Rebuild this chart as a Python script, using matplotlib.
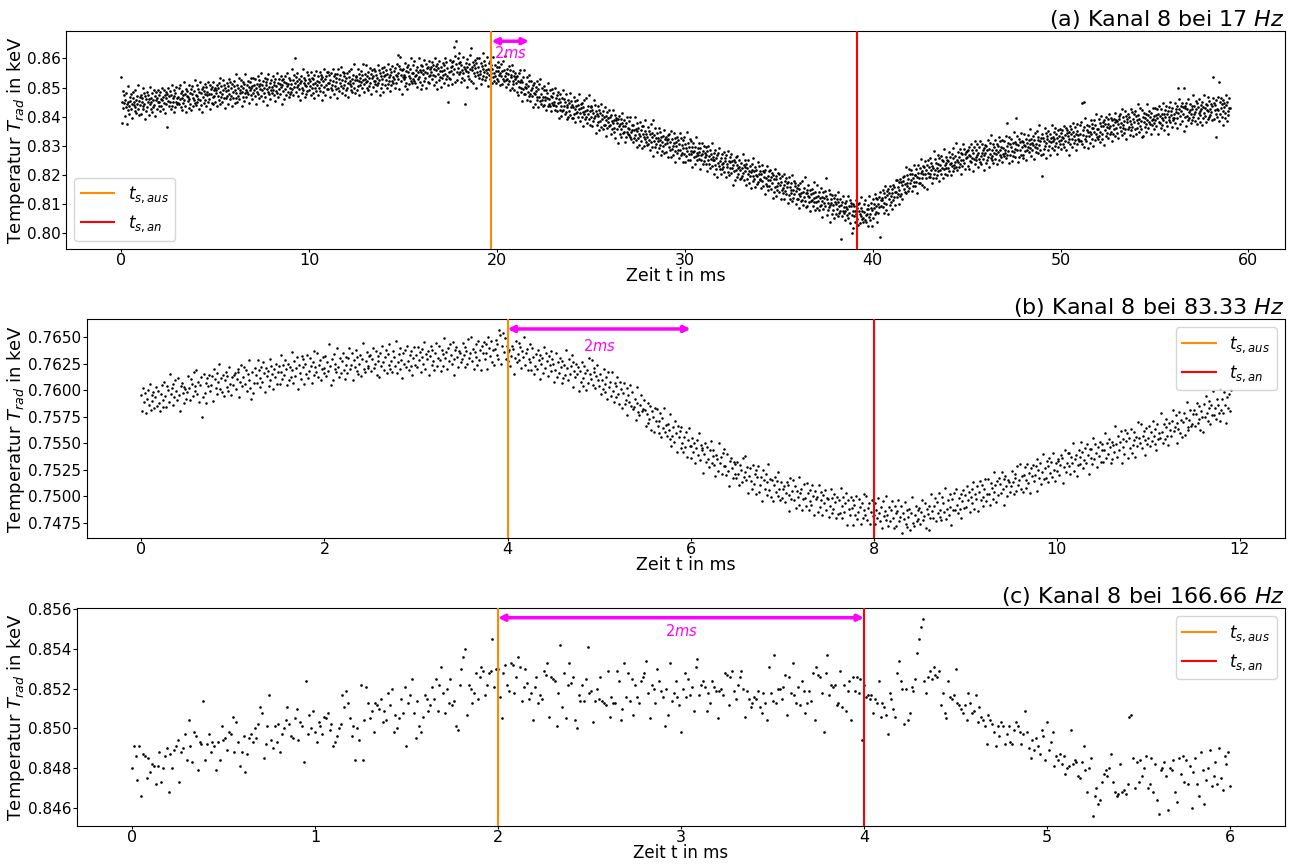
import numpy as np
import matplotlib
matplotlib.use("Agg")
import matplotlib.pyplot as plt
from matplotlib.ticker import MultipleLocator, FormatStrFormatter

# ---------------- data ----------------
# panel (a): 17 Hz, one row per ms, 0.025 ms sampling, values = 0.79 keV + v * 1e-4 keV
base_a = 0.79
dt_a = 0.025
row_len_a = 1.0
temp_a_rows = [
[635,480,552,588,530,546,573,501,557,534,581,542,474,523,550,604,537,510,569,555,528,577,545,496,563,585,539,549,520,592,532,558,513,571,543,609,526,554,507,567],
[541,576,509,564,552,527,597,536,580,545,493,570,559,520,586,533,551,574,505,561,545,603,525,565,550,517,580,558,532,593,541,570,502,557,585,528,565,549,590,537],
[575,549,518,584,562,535,556,599,526,567,548,592,514,574,583,543,563,464,579,555,598,535,570,587,552,526,575,609,538,563,549,592,515,570,580,534,602,551,564,543],
[548,569,597,542,610,560,534,581,564,523,589,574,547,619,556,538,578,596,515,571,588,554,569,531,609,561,582,543,595,522,578,604,565,536,587,558,625,548,575,540],
[572,607,549,562,595,528,584,619,557,539,581,594,517,603,568,589,547,612,578,556,602,537,586,573,620,551,579,560,607,526,596,579,548,601,567,620,543,591,571,598],
[552,593,581,535,609,598,570,615,557,586,543,632,568,605,578,550,591,625,563,608,531,599,587,563,615,572,606,544,591,631,579,560,620,570,597,538,613,586,564,624],
[606,546,593,565,648,582,610,552,597,571,633,561,590,580,626,604,537,586,618,569,598,612,553,580,647,593,566,609,585,624,579,602,546,618,591,575,633,597,562,605],
[580,633,592,608,571,628,600,545,613,584,639,578,604,626,563,596,611,571,649,591,609,553,622,599,581,634,568,607,618,541,595,630,586,647,577,602,614,559,626,591],
[582,603,590,641,573,619,609,554,631,588,605,580,651,617,568,594,629,612,577,640,601,625,543,609,589,629,620,560,638,594,617,576,649,606,585,612,634,568,599,625],
[578,613,586,663,596,625,574,603,642,616,702,635,583,622,601,649,571,609,594,628,614,558,639,621,581,599,662,590,617,632,568,609,626,579,605,655,587,642,614,593],
[631,604,624,576,653,600,634,581,612,629,563,644,597,616,588,657,610,623,574,639,597,619,653,588,630,609,644,558,635,622,584,602,664,629,573,640,607,594,652,617],
[654,594,616,643,568,627,600,650,590,609,664,624,577,639,605,648,596,620,632,564,645,600,662,628,587,615,642,605,669,580,626,597,655,610,638,649,575,621,633,592],
[600,649,617,568,635,657,611,621,592,664,605,631,586,644,616,682,599,627,580,640,635,592,627,663,605,621,648,576,632,609,657,618,642,599,626,680,613,586,645,631],
[619,677,599,639,624,591,654,632,606,667,616,645,577,632,660,603,640,624,665,612,621,656,589,644,632,607,677,616,660,625,573,650,639,600,666,613,631,654,585,641],
[671,608,643,660,625,599,648,682,611,636,622,665,588,643,653,607,675,624,637,616,657,631,600,666,644,617,638,681,710,649,629,673,595,705,664,624,644,578,660,636],
[662,628,643,605,683,635,656,617,669,596,653,679,640,611,662,633,700,623,650,615,628,649,677,622,690,640,614,661,644,603,670,655,628,700,637,619,659,677,596,652],
[675,610,659,646,693,624,652,633,680,599,667,650,619,672,638,691,614,662,642,669,653,688,630,643,676,609,665,700,638,620,660,673,596,682,647,668,626,691,657,635],
[601,669,657,633,685,642,676,614,661,701,648,629,689,639,666,607,550,655,633,693,629,670,658,612,686,675,647,692,740,663,619,708,760,681,654,626,667,701,720,684],
[646,689,654,618,676,660,633,705,649,672,626,665,545,684,657,603,670,697,638,652,680,631,663,712,735,623,669,659,688,616,677,651,696,638,666,600,683,655,702,642],
[669,634,701,646,658,683,613,674,630,665,718,641,652,691,625,678,660,637,706,650,664,606,684,644,659,692,629,651,677,616,665,636,704,649,621,678,641,657,616,669],
[631,657,688,622,644,671,650,607,680,639,656,612,690,630,621,661,641,707,625,649,601,664,629,612,647,673,624,590,661,636,643,600,677,622,612,658,590,641,628,649],
[635,614,586,641,573,623,649,602,619,660,585,600,627,555,618,636,596,578,659,603,578,612,597,635,557,605,584,623,571,644,579,553,592,621,570,599,532,609,582,617],
[579,544,602,589,556,623,567,532,594,612,566,553,630,544,579,558,600,535,569,591,540,605,556,569,522,591,563,582,535,616,542,559,590,537,571,518,595,547,567,540],
[581,540,552,598,524,535,563,518,576,547,585,496,560,523,550,578,537,503,565,520,592,524,536,560,508,551,517,579,532,492,539,558,498,548,521,580,505,532,554,494],
[540,497,532,568,510,526,553,481,537,514,556,517,541,498,525,579,512,485,544,530,499,548,516,467,534,556,510,520,491,563,498,524,479,537,509,575,492,520,473,533],
[500,535,468,523,511,486,556,495,539,504,443,520,509,470,536,483,501,524,455,511,486,544,466,506,491,458,521,499,473,534,473,502,434,489,517,460,497,481,522,469],
[498,472,441,507,485,458,479,522,449,490,462,506,428,488,497,457,477,411,493,469,503,440,475,492,457,431,480,514,443,468,446,489,412,467,477,431,499,448,461,440],
[437,458,486,431,499,449,423,470,453,412,470,455,428,500,437,419,459,477,396,452,460,426,441,403,481,433,454,415,467,394,442,468,429,400,451,422,489,412,439,404],
[429,464,406,419,452,385,441,476,414,396,430,443,366,489,417,438,396,461,427,405,444,379,428,415,462,393,421,402,449,368,430,413,382,435,401,454,377,425,405,432],
[379,420,408,362,436,425,397,442,384,413,363,452,388,425,398,370,411,445,383,428,345,413,401,377,429,386,420,358,405,445,386,367,427,377,404,345,420,393,371,431],
[406,346,393,365,448,382,410,352,397,371,425,353,382,372,418,396,329,378,410,361,382,396,337,364,431,377,350,393,369,408,355,378,322,394,367,351,409,373,338,381],
[348,401,360,376,339,396,368,313,381,352,399,338,364,386,323,356,371,331,409,351,361,305,374,351,333,386,320,359,370,293,340,375,331,392,322,347,359,304,371,336],
[320,341,328,379,311,357,347,292,369,326,336,311,382,348,299,325,360,343,308,371,325,349,267,333,313,353,344,284,362,318,334,293,366,323,302,329,351,285,316,342],
[288,323,296,373,306,335,284,313,352,326,265,338,286,325,304,352,274,312,297,331,311,255,336,318,278,296,359,287,314,329,258,299,316,269,295,345,277,332,304,283],
[312,285,305,257,334,281,315,262,293,310,236,317,270,289,261,330,283,296,247,312,261,283,317,252,294,273,308,222,299,286,240,258,320,285,229,296,263,250,308,273],
[302,242,264,291,216,275,248,298,238,257,304,264,217,279,245,288,236,260,272,204,277,232,294,260,219,247,274,237,301,212,250,221,279,234,262,273,199,245,257,216],
[217,266,234,185,252,274,228,238,209,281,215,241,196,254,226,292,209,237,190,250,237,194,229,265,207,223,250,178,234,211,252,213,237,194,221,275,208,181,240,226],
[207,265,187,227,212,179,242,220,194,255,196,225,157,212,240,183,220,204,245,192,290,229,162,217,205,180,250,189,233,198,139,216,205,166,232,179,197,220,151,207],
[230,167,202,219,184,158,207,241,170,195,175,218,80,196,206,160,228,177,190,169,203,177,146,212,190,163,184,227,154,195,169,213,135,195,204,164,100,118,200,176],
[194,160,175,137,215,167,188,149,201,128,178,204,165,136,187,158,225,148,175,140,151,172,200,145,213,163,137,184,167,126,198,183,156,228,165,147,187,205,124,180],
[216,151,200,187,234,165,193,174,221,140,218,201,170,223,189,242,88,213,193,220,214,249,191,204,237,170,226,261,199,181,231,244,167,253,218,239,197,262,228,206],
[183,251,239,215,267,224,258,196,243,283,242,223,283,233,260,201,276,249,227,287,235,276,264,218,292,281,253,298,240,269,237,326,262,299,272,244,285,319,257,302],
[274,317,282,246,304,288,261,333,277,300,262,301,277,320,293,239,306,333,274,288,323,274,306,355,288,266,312,302,331,259,328,302,347,289,317,251,334,306,353,293],
[327,292,359,304,316,341,271,332,288,323,382,305,316,355,289,342,324,301,370,314,338,280,358,318,333,366,303,325,351,290,349,320,388,333,305,362,325,341,300,353],
[323,349,380,314,336,363,342,299,372,331,359,315,393,333,324,364,344,410,328,352,316,379,344,327,362,388,339,305,376,351,373,330,407,352,342,388,320,371,358,379],
[381,360,332,387,319,369,395,348,365,406,344,359,386,314,377,395,355,337,418,362,350,384,369,407,329,377,356,395,343,416,364,338,377,406,355,384,317,394,367,402],
[375,340,398,385,352,419,363,328,390,408,372,359,436,350,385,364,406,341,375,397,356,421,372,385,338,407,379,398,351,432,368,385,416,363,397,344,421,373,393,366],
[416,375,387,433,359,370,398,478,411,382,430,341,405,368,395,423,382,348,410,365,446,378,390,414,362,405,495,433,386,346,403,422,362,412,385,444,369,396,418,358],
[412,369,404,440,382,398,425,353,409,386,436,397,421,378,405,459,392,365,424,410,386,435,403,354,421,443,397,407,378,450,393,419,374,432,404,470,387,415,368,428],
[298,439,372,427,415,390,460,399,443,408,358,435,424,385,451,398,416,439,370,426,412,470,392,432,417,384,447,425,399,460,410,439,371,426,454,397,434,418,459,406],
[445,419,388,454,432,405,426,469,396,437,418,462,384,444,453,413,433,367,449,425,469,406,441,458,423,397,446,480,409,434,421,464,387,442,452,406,474,423,436,415],
[421,442,470,415,483,547,407,454,437,396,466,549,424,496,433,415,455,473,392,448,467,433,448,410,488,440,461,422,474,401,461,487,448,419,470,441,508,431,458,423],
[457,492,434,447,480,413,469,504,442,424,468,481,404,490,455,476,434,499,465,443,491,426,475,462,509,440,468,449,496,415,487,470,439,492,458,511,434,482,462,489],
[445,486,474,428,502,491,463,508,450,479,437,526,462,499,472,444,485,519,457,502,425,493,481,457,509,466,500,438,485,525,474,455,515,465,492,433,508,481,459,519],
[502,442,489,461,544,478,506,448,493,467,529,457,486,431,522,500,433,482,514,465,494,508,449,476,543,489,462,505,481,520,475,498,442,514,487,471,529,493,458,501],
[477,530,489,505,468,525,497,442,510,481,538,477,503,525,462,495,510,470,548,490,510,454,523,500,482,535,469,508,519,442,499,534,490,551,481,506,518,463,530,495],
[488,509,496,547,479,525,515,460,537,494,513,598,559,525,476,502,537,520,485,548,510,534,452,600,498,538,529,469,547,503,528,487,560,517,496,523,545,479,510,536],
[490,525,498,575,508,537,486,515,554,528,474,547,495,534,513,561,483,521,506,540,527,471,552,534,494,512,575,503,530,545,481,522,539,492,518,568,500,555,527,506],
[543,516,536,488,565,635,546,493,524,541,431,556,509,528,500,569,522,620,486,551,509,531,565,500,542,521,556,470,547,534,496,514,576,541,485,552,519,506,564,529],
[530],
]

# panel (b): 83.33 Hz, one row per 0.5 ms, 0.01 ms sampling, values = 0.74 keV + v * 1e-4 keV
base_b = 0.74
dt_b = 0.01
row_len_b = 0.5
temp_b_rows = [
[195,180,202,189,197,178,192,200,186,206,181,195,190,198,183,193,203,185,199,188,180,196,205,184,191,208,194,184,204,200,189,215,196,202,186,206,193,209,199,191,211,195,180,204,207,197,188,203,201,192],
[198,213,202,191,210,206,194,217,199,204,219,196,208,189,205,212,175,193,215,197,207,188,211,204,214,199,205,213,190,220,210,202,216,196,208,225,201,211,198,214,194,209,217,203,213,199,222,206,195,212],
[205,214,216,201,210,220,217,193,208,224,204,212,222,206,219,199,215,209,228,202,192,217,197,207,221,214,207,228,219,203,211,222,208,226,216,198,221,213,218,204,229,209,223,215,201,220,212,225,206,217],
[223,206,217,233,210,224,214,228,220,205,225,209,222,212,236,219,207,227,213,221,231,201,224,216,210,232,222,229,206,225,215,233,211,218,230,223,207,226,214,237,222,217,235,212,224,228,209,220,231,216],
[221,232,213,226,218,243,223,205,229,209,234,220,225,217,240,222,212,230,216,227,235,219,210,231,224,216,230,240,220,224,235,209,228,222,238,218,231,215,225,233,213,229,244,220,217,227,236,221,223,232],
[233,218,229,240,221,225,237,214,232,227,212,235,223,242,226,219,231,238,216,234,224,243,220,227,217,237,231,223,246,216,226,234,220,240,228,211,235,225,238,222,242,227,219,233,223,237,214,230,241,224],
[233,222,241,228,236,217,231,239,225,245,220,234,229,237,214,232,242,224,238,227,219,235,244,223,230,242,228,218,238,234,223,249,230,236,220,240,227,243,233,225,245,229,214,238,241,231,222,237,235,226],
[229,244,233,222,241,237,225,248,230,235,250,227,239,220,236,243,231,224,246,228,238,219,242,235,245,229,235,243,220,250,240,232,246,226,238,224,239,247,233,243,229,257,252,225,242,254,236,249,229,242],
[227,236,238,223,232,242,239,215,230,246,226,234,244,228,241,221,237,231,250,224,235,239,219,229,243,226,219,240,231,215,223,234,220,238,228,210,233,225,230,216,241,221,235,227,213,232,224,237,218,229],
[225,208,219,235,212,226,216,230,222,207,227,211,224,214,238,221,209,229,215,223,233,203,226,218,212,225,215,222,199,218,208,226,204,211,223,216,200,219,207,230,215,210,228,205,217,221,202,213,224,209],
[204,215,196,209,201,220,206,198,212,192,217,203,208,194,217,199,189,207,193,204,212,196,187,208,201,183,197,207,187,191,202,176,195,189,205,185,198,182,184,192,172,188,203,179,176,186,195,180,182,191],
[181,166,177,188,169,173,185,162,180,175,160,183,171,182,166,159,171,178,156,174,164,183,160,167,157,168,162,154,177,147,157,165,151,171,159,142,166,156,161,145,165,150,142,156,146,160,137,153,164,147],
[147,136,155,142,150,131,145,153,139,159,134,148,143,145,122,140,150,132,146,135,127,143,152,131,138,143,129,119,139,135,124,150,131,137,121,141,128,144,128,120,140,124,109,133,136,126,117,132,130,121],
[117,132,121,110,129,125,113,136,118,123,138,115,127,103,119,126,114,107,129,111,121,102,125,118,128,104,110,118,95,125,115,107,121,101,113,130,106,116,99,115,95,110,118,104,114,100,123,107,96,113],
[98,107,109,94,103,113,110,86,101,117,97,105,115,96,109,89,105,99,118,92,103,107,87,97,111,98,91,112,103,87,95,106,92,110,100,82,105,97,99,85,110,90,104,96,82,101,93,106,87,98],
[97,80,91,107,84,98,88,102,94,79,99,83,96,84,108,91,79,99,85,93,103,73,96,88,82,99,89,96,73,92,82,100,78,85,97,90,74,93,79,102,87,82,100,77,89,93,74,85,96,81],
[82,93,74,87,79,98,84,76,90,70,95,81,86,77,100,82,72,90,76,87,95,79,70,91,84,72,86,96,76,80,91,65,84,78,94,74,87,71,80,88,68,84,99,75,72,82,91,76,78,87],
[89,74,85,96,77,81,93,70,88,83,68,91,79,102,86,79,91,98,76,94,84,103,80,87,77,99,93,85,108,78,88,96,82,102,90,73,97,87,103,87,107,92,84,98,88,102,79,95,106,89],
[101,90,109,96,104,85,99,107,93,113,88,102,97,109,86,104,114,96,110,99,91,107,116,95,102,116,102,92,112,108,97,123,104,110,94,114,101,117,111,103,123,107,92,116,119,109,100,115,113,104],
[109,124,113,102,121,117,105,128,110,115,130,107,119,104,120,127,115,108,130,112,122,103,126,119,129,114,120,128,105,135,125,117,131,111,123,140,116,126,117,133,113,128,136,122,132,118,141,125,114,131],
[124,133,135,120,129,139,136,112,127,143,123,131,141,128,141,121,137,131,150,124,135,139,119,129,143,137,130,151,142,126,134,145,131,149,139,121,144,136,144,130,155,135,149,141,127,146,138,151,132,143],
[149,132,143,159,136,150,140,154,146,131,151,135,148,142,166,149,137,157,143,151,161,131,154,146,140,162,152,159,136,155,145,163,141,148,160,153,137,156,147,170,155,150,168,145,157,161,139,153,164,149],
[155,166,147,160,152,171,157,149,163,143,168,154,159,155,178,160,150,168,154,165,173,157,148,169,162,157,171,181,161,165,176,150,169,163,179,159,172,156,170,178,158,174,189,165,162,172,181,166,168,177],
[181,166,177,188,169,173,185,162,180,175,160,187,175,194,178,171,183,190,168,186,176,199,176,183,173,192,186,178,201,171,181,192,178,198,186,169,193,183,196,180,200],
]

# panel (c): 166.66 Hz, one row per 0.25 ms, 0.01 ms sampling, values = 0.84 keV + v * 1e-4 keV
base_c = 0.84
dt_c = 0.01
row_len_c = 0.25
temp_c_rows = [
[80,91,86,74,91,66,87,86,75,85,78,82,81,72,81,88,73,80,86,90,68,87,80,89,91],
[94,73,88,90,97,84,104,91,83,98,96,79,93,92,114,84,92,97,88,93,91,79,93,84,101],
[94,95,89,98,97,106,88,103,93,81,88,96,78,87,95,97,93,100,95,102,111,108,85,92,101],
[117,94,90,101,93,102,88,97,100,104,111,102,96,95,105,110,94,103,101,83,124,97,107,100,109],
[98,93,103,101,97,106,105,108,99,102,91,93,96,100,102,117,111,119,113,105,96,101,84,100,94],
[122,84,104,121,113,105,109,98,113,112,110,115,103,109,104,118,112,120,98,107,100,105,115,108,121],
[91,113,117,125,108,95,114,101,98,106,117,115,109,112,121,115,125,109,122,131,118,108,120,113,125],
[112,114,101,99,122,130,136,140,107,122,120,113,118,128,115,126,131,129,117,122,128,129,145,121,130],
[130,116,105,128,132,122,119,133,132,118,126,136,131,114,121,130,123,115,118,104,121,126,113,117,115],
[129,127,133,106,126,125,124,101,118,142,111,128,105,122,133,123,126,104,100,117,114,122,114,125,141],
[118,119,103,114,120,115,126,114,113,112,129,106,116,113,113,129,124,104,110,133,116,128,114,125,107],
[122,116,113,124,126,128,134,118,105,122,120,113,130,124,119,116,101,120,107,133,114,118,124,116,112],
[98,120,128,116,125,117,121,109,131,135,117,122,124,121,109,118,113,124,121,119,105,119,120,117,128],
[127,112,126,129,119,115,122,126,129,120,106,119,115,111,113,116,115,119,111,108,118,113,104,131,118],
[114,137,113,120,120,115,121,127,107,126,118,133,117,113,121,112,124,119,108,113,119,114,128,104,131],
[127,126,118,98,128,137,117,122,121,122,112,113,129,111,122,109,119,124,104,126,119,126,118,125,94],
[122,116,117,115,117,108,115,113,124,106,113,111,107,97,118,115,110,106,128,134,124,120,102,120,104],
[108,121,119,125,138,145,151,155,124,118,126,129,125,131,127,126,129,112,118,108,105,124,116,115,117],
[130,113,112,110,108,112,104,118,113,108,109,117,103,111,106,104,101,92,107,104,102,98,91,101,96],
[103,101,92,97,101,93,92,99,103,101,98,92,97,109,98,90,85,94,89,95,91,87,99,96,84],
[103,89,93,98,81,86,84,87,82,86,77,80,81,99,82,84,83,76,75,83,91,79,68,80,85],
[56,66,70,62,64,73,77,79,76,80,87,73,68,66,67,82,68,69,67,72,106,107,85,70,83],
[73,84,76,80,86,70,72,85,68,82,64,57,79,80,83,76,59,80,79,84,68,63,85,77,86],
[73,84,72,81,60,78,85,72,66,88,79,62,74,80,89,71,76,83,72,90,75,69,86,82,88],
[71],
]

# switching times (ms)
t_aus = [19.7, 4.0, 2.0]
t_an = [39.15, 8.0, 4.0]
titles = ["(a) Kanal 8 bei 17 $Hz$", "(b) Kanal 8 bei 83.33 $Hz$", "(c) Kanal 8 bei 166.66 $Hz$"]
arrow_y = [0.8659, 0.76576, 0.85558]
arrow_text_y = [0.8618, 0.7642, 0.8549]


def build(rows, base, dt, row_len):
    ts, vs = [], []
    for k, row in enumerate(rows):
        for i, v in enumerate(row):
            ts.append(k * row_len + i * dt)
            vs.append(base + v * 1e-4)
    return np.array(ts), np.array(vs)


ta, ya = build(temp_a_rows, base_a, dt_a, row_len_a)
tb, yb = build(temp_b_rows, base_b, dt_b, row_len_b)
tc, yc = build(temp_c_rows, base_c, dt_c, row_len_c)

# ---------------- figure ----------------
W, H = 1299, 864
fig = plt.figure(figsize=(W / 100, H / 100), dpi=100)


def add_ax(left, right, top, bottom):
    return fig.add_axes([left / W, 1 - bottom / H, (right - left) / W, (bottom - top) / H])


axes = [add_ax(66, 1285, 31, 249), add_ax(87, 1285, 319, 538), add_ax(77, 1285, 608, 826)]
lefts = [66, 87, 77]
widths = [1219, 1198, 1208]
data = [(ta, ya), (tb, yb), (tc, yc)]
msizes = [1.9, 1.8, 1.9]
xlims = [(-2.95, 61.95), (-0.595, 12.495), (-0.3, 6.3)]
ylims = [(0.7946, 0.8694), (0.74604, 0.7667), (0.84508, 0.85607)]
xsteps = [10, 2, 1]
ysteps = [0.01, 0.0025, 0.002]
yfmts = ["%.2f", "%.4f", "%.3f"]
legend_locs = ["lower left", "upper right", "upper right"]
xlabel_sizes = [12.5, 12.5, 12]

for i, ax in enumerate(axes):
    t, y = data[i]
    ax.plot(t, y, linestyle="none", marker="o", ms=msizes[i], mew=0, color="black", zorder=2)
    ax.axvline(t_aus[i], color="darkorange", lw=1.5, label=r"$t_{s,aus}$", zorder=3)
    ax.axvline(t_an[i], color="red", lw=1.5, label=r"$t_{s,an}$", zorder=3)
    ax.annotate("", xy=(t_aus[i] + 2.0, arrow_y[i]), xytext=(t_aus[i], arrow_y[i]),
                arrowprops=dict(arrowstyle="<|-|>", color="magenta", lw=2.5,
                                mutation_scale=9, shrinkA=0, shrinkB=0), zorder=4)
    ax.text(t_aus[i] + 1.0, arrow_text_y[i], "$2ms$", color="magenta", fontsize=10.5,
            ha="center", va="center", zorder=4)
    ax.set_xlim(*xlims[i])
    ax.set_ylim(*ylims[i])
    ax.xaxis.set_major_locator(MultipleLocator(xsteps[i]))
    ax.yaxis.set_major_locator(MultipleLocator(ysteps[i]))
    ax.yaxis.set_major_formatter(FormatStrFormatter(yfmts[i]))
    ax.tick_params(axis="x", labelsize=11.5, length=2, pad=1)
    ax.tick_params(axis="y", labelsize=11, length=3, pad=1)
    ax.set_xlabel("Zeit t in ms", fontsize=xlabel_sizes[i], labelpad=-1)
    ax.set_ylabel(r"Temperatur $T_{rad}$ in keV", fontsize=13)
    ax.yaxis.set_label_coords((27 - lefts[i]) / widths[i], 0.5)
    ax.set_title(titles[i], loc="right", fontsize=16, pad=2)
    ax.legend(loc=legend_locs[i], fontsize=12)

fig.savefig("out.png", dpi=100)
